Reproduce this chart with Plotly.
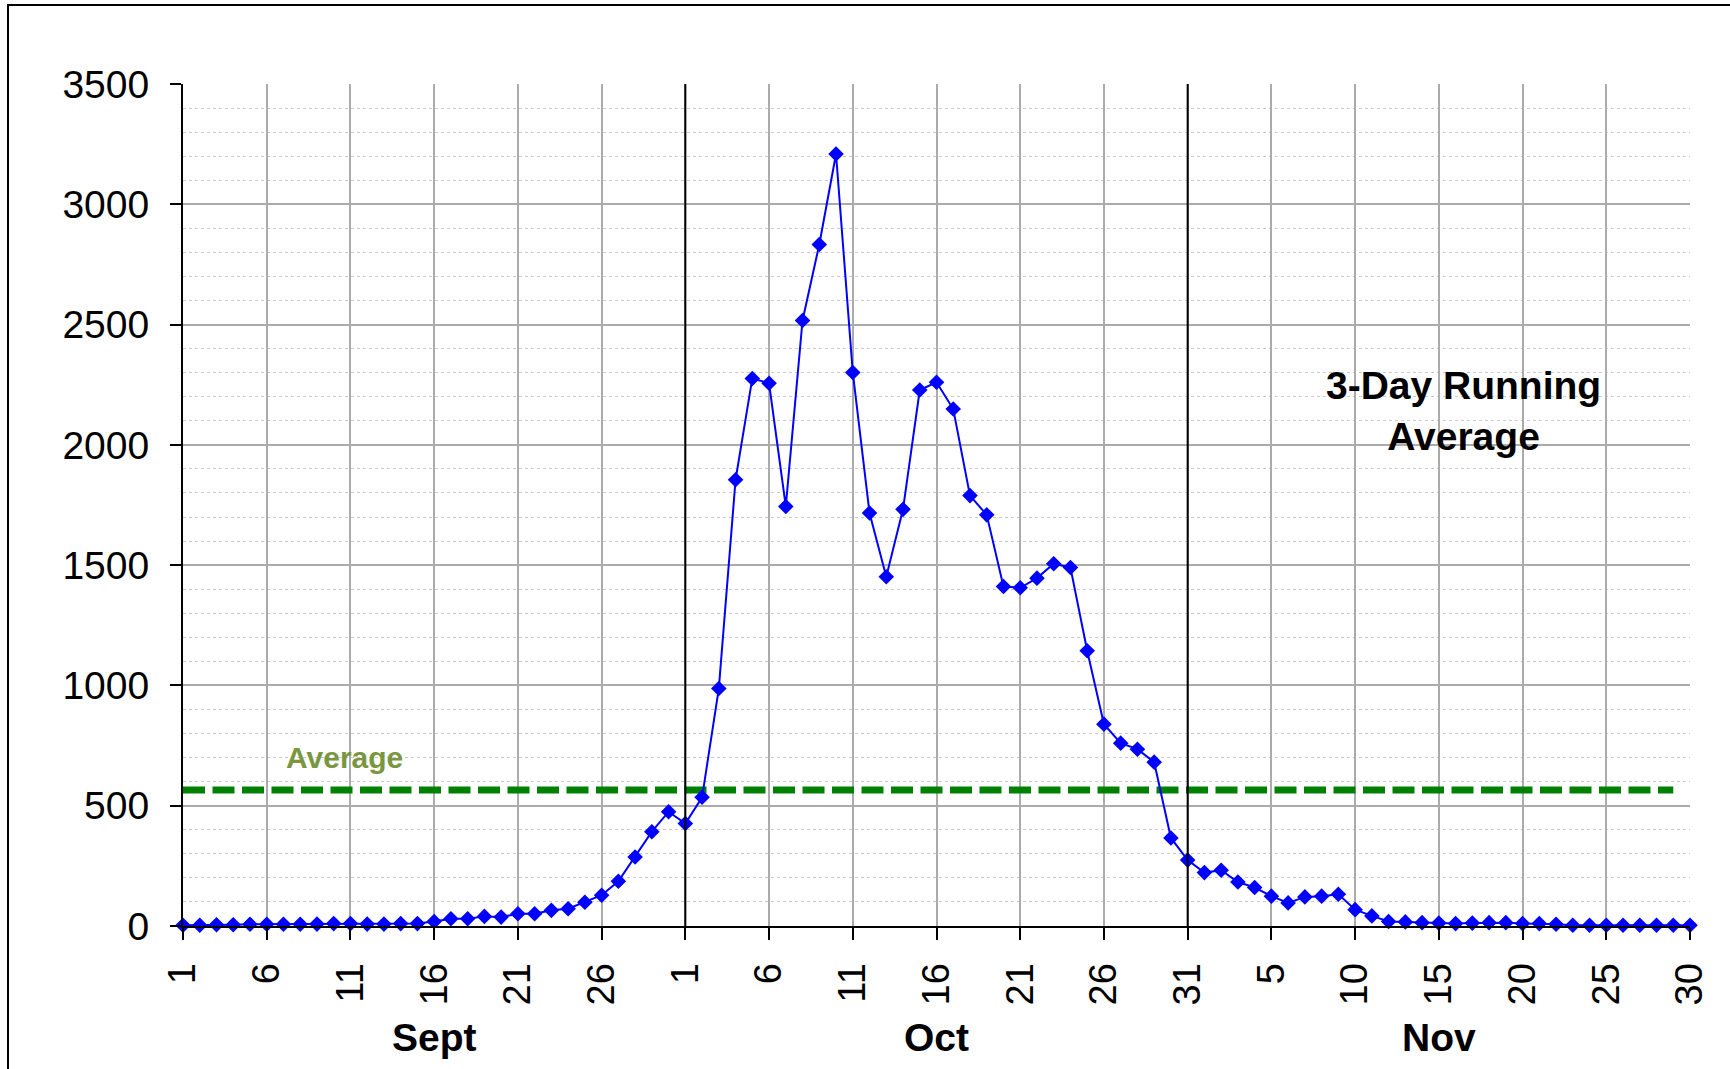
import plotly.graph_objects as go

# ---- data ----
sept_days = list(range(1, 31))
oct_days = list(range(1, 32))
nov_days = list(range(1, 31))
day_labels = [str(d) for d in sept_days + oct_days + nov_days]

running_avg = [
    # Sept 1-30
    3, 3, 5, 5, 7, 7, 7, 7, 8, 10,
    10, 8, 8, 10, 10, 19, 30, 30, 40, 37,
    51, 51, 65, 72, 99, 128, 186, 287, 392, 475,
    # Oct 1-31
    426, 535, 987, 1855, 2276, 2256, 1744, 2517, 2833, 3209,
    2301, 1717, 1452, 1732, 2228, 2260, 2149, 1789, 1709, 1411,
    1406, 1446, 1506, 1490, 1144, 839, 760, 735, 681, 366,
    274,
    # Nov 1-30
    222, 232, 183, 160, 124, 96, 121, 124, 132, 68,
    42, 19, 17, 14, 12, 10, 12, 14, 14, 10,
    10, 7, 3, 3, 3, 3, 3, 3, 3, 3,
]
overall_average = 565
avg_span = 90  # number of days the average line covers
month_names = ["Sept", "Oct", "Nov"]
month_centers = [15, 45, 75]
month_boundaries = [30, 60]
tick_step = 5

x_idx = list(range(len(running_avg)))
tickvals = x_idx[::tick_step]
ticktext = [day_labels[i] for i in tickvals]

FONT = "Liberation Sans, Arial, sans-serif"

fig = go.Figure()

fig.add_trace(go.Scatter(
    x=list(range(avg_span)), y=[overall_average] * avg_span,
    mode="lines",
    line=dict(color="#008000", width=7, dash="22px,7.5px"),
    hoverinfo="skip", showlegend=False,
))

fig.add_trace(go.Scatter(
    x=x_idx, y=running_avg,
    mode="lines+markers",
    line=dict(color="#0000FF", width=2),
    marker=dict(symbol="diamond", size=12, color="#0000FF"),
    cliponaxis=False, showlegend=False,
))

for b in month_boundaries:
    fig.add_shape(type="line", xref="x", yref="y", x0=b, x1=b, y0=0, y1=3500,
                  line=dict(color="black", width=2), layer="above")

# outer chart border (right/bottom extend past the page)
fig.add_shape(type="rect", xref="paper", yref="paper",
              x0=(8 - 183) / 1507, x1=1.2, y0=-0.5, y1=(926 - 5) / 842,
              line=dict(color="black", width=2), layer="below")

for name, c in zip(month_names, month_centers):
    fig.add_annotation(x=c, y=-0.132, xref="x", yref="paper", text=f"<b>{name}</b>",
                       showarrow=False, font=dict(family=FONT, size=39, color="black"),
                       yanchor="middle")

fig.add_annotation(x=76.5, y=2140, xref="x", yref="y",
                   text="<b>3-Day Running<br>Average</b>", showarrow=False,
                   font=dict(family=FONT, size=39, color="black"), align="center")

fig.add_annotation(x=9.66, y=702, xref="x", yref="y", text="<b>Average</b>",
                   showarrow=False, font=dict(family=FONT, size=30, color="#7A9640"))

fig.update_layout(
    width=1730, height=1069,
    margin=dict(l=183, r=40, t=84, b=143),
    paper_bgcolor="white", plot_bgcolor="white",
    font=dict(family=FONT, size=38, color="black"),
    showlegend=False,
    xaxis=dict(
        range=[0, 90], tickvals=tickvals, ticktext=ticktext, tickangle=-90,
        showgrid=True, gridcolor="#ABABAB", gridwidth=1.5,
        showline=True, linecolor="black", linewidth=2,
        ticks="outside", ticklen=12, tickwidth=1.5, tickcolor="black",
        tickfont=dict(family=FONT, size=38), ticklabelstandoff=8,
        zeroline=False,
    ),
    yaxis=dict(
        range=[0, 3500], dtick=500, tick0=0,
        showgrid=True, gridcolor="#ABABAB", gridwidth=1.5,
        minor=dict(dtick=100, showgrid=True, gridcolor="#C8C8C8", griddash="dot", gridwidth=1),
        showline=True, linecolor="black", linewidth=2,
        ticks="outside", ticklen=11, tickwidth=1.5, tickcolor="black",
        tickfont=dict(family=FONT, size=39), ticklabelstandoff=13,
        zeroline=False,
    ),
)

fig.write_html("out.html", config={"displayModeBar": False},
               post_script="document.body.style.margin='0';")
